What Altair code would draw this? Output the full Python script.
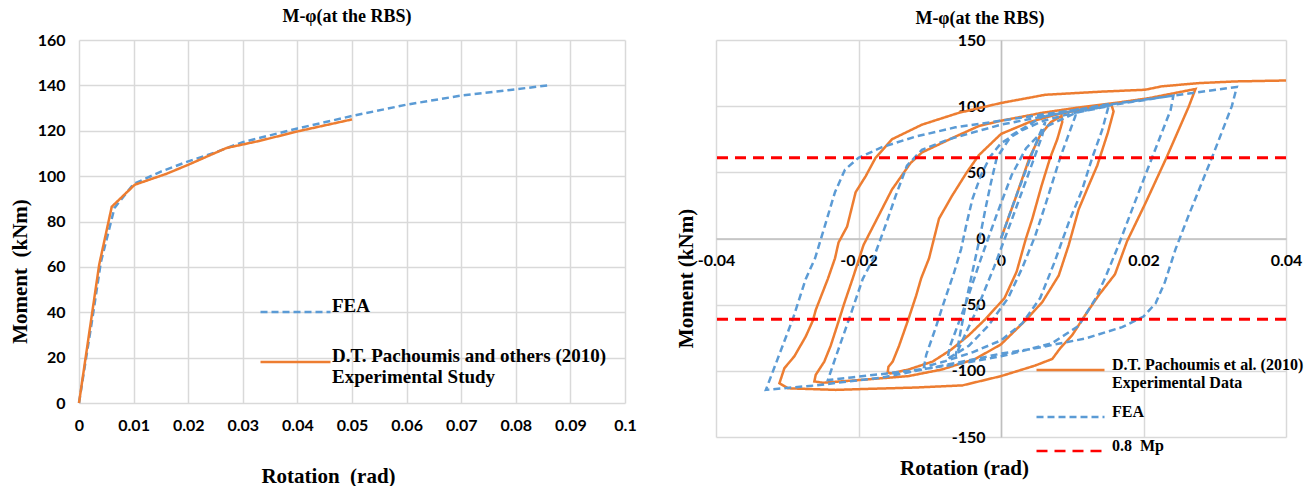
import altair as alt
import pandas as pd

TITLE = "M-φ(at the RBS)"
NB = "\u00a0"

# ---------------- left panel (monotonic) ----------------
mono_fea_rot = [0, 0.0025, 0.004, 0.0065, 0.01, 0.015, 0.02, 0.025, 0.03, 0.04, 0.05, 0.06, 0.07, 0.08, 0.086]
mono_fea_mom = [0, 38, 62, 86, 96.5, 102, 106.5, 110.5, 115, 121, 126.5, 131.5, 135.5, 138.3, 140]
mono_exp_rot = [0, 0.0037, 0.006, 0.0102, 0.016, 0.02, 0.027, 0.033, 0.04, 0.05]
mono_exp_mom = [0, 61, 86.5, 96.2, 101, 105, 112.4, 115.5, 119.7, 125]
left_names = ["FEA", "D.T. Pachoumis and others (2010)|Experimental Study"]
left_x_ticks = [0, 0.01, 0.02, 0.03, 0.04, 0.05, 0.06, 0.07, 0.08, 0.09, 0.1]
left_y_ticks = [0, 20, 40, 60, 80, 100, 120, 140, 160]

# ---------------- right panel (cyclic) ----------------
exp_rot = [0, 0.002, 0.004, 0.0055, 0.007, 0.0085,
           0.0086, 0.0079, 0.0069, 0.0057, 0.0044, 0.0035, 0.0022, 0.0005, -0.0022, -0.0045, -0.007, -0.0096, -0.013, -0.0155, -0.0159,
           -0.0158, -0.0152, -0.0143, -0.013, -0.0119, -0.0112, -0.0101, -0.0087, -0.0069, -0.0048, -0.0031, 0, 0.004, 0.008, 0.012, 0.0155,
           0.0158, 0.015, 0.0135, 0.0123, 0.0109, 0.0095, 0.0081, 0.0058, 0.0036, 0, -0.0036, -0.0083, -0.013, -0.02, -0.025, -0.0262,
           -0.026, -0.0248, -0.0239, -0.0227, -0.022, -0.0208, -0.0193, -0.0172, -0.0153, -0.0127, -0.0111, -0.0064, -0.0031, 0, 0.0058, 0.0104, 0.016, 0.0207, 0.0273,
           0.0263, 0.0233, 0.0203, 0.0177, 0.016, 0.0137, 0.0118, 0.01, 0.0083, 0.0072, 0.0048, 0, -0.0054, -0.0119, -0.019, -0.0232, -0.0299, -0.0311,
           -0.0304, -0.029, -0.0274, -0.0264, -0.026, -0.0243, -0.0233, -0.0228, -0.0216, -0.0204, -0.019, -0.0176, -0.0153, -0.0111, -0.0059, 0, 0.0062, 0.0142, 0.0202, 0.0226, 0.0277, 0.0329, 0.04]
exp_mom = [0, 30, 61, 78, 88, 92.5,
           88, 75, 61, 40, 15, 0, -25, -45, -61, -73, -84, -93, -99, -102, -101,
           -97, -93, -81, -61, -43, -30, -15, 15, 32, 50, 63, 79, 88, 94, 98, 101,
           96, 80, 55, 40, 22, -5, -28, -48, -61, -80, -91, -99, -104, -107, -109, -108,
           -103, -93, -81, -61, -49, -30, -5, 17, 37, 57, 65, 77, 85, 89, 95, 98.6, 102.4, 106, 113,
           99, 62, 27, -2, -27, -43, -58, -73, -83, -91, -96, -104, -111, -112.6, -113.7, -114.4, -113.2, -109.4,
           -98, -89, -74, -62, -54, -30.5, -15, -3, 9, 35, 47, 61, 75, 86, 95, 102.4, 108.6, 111, 112.4, 115, 117.4, 118.7, 119.4]

fea_rot = [0, 0.002, 0.0042, 0.0055, 0.0062,
           0.0058, 0.0038, 0.0015, -0.001, -0.0035, -0.0055, -0.0064,
           -0.006, -0.0048, -0.0038, -0.003, -0.0022, -0.0015, -0.0006, 0.0015, 0.0058, 0.0107,
           0.0104, 0.0083, 0.0062, 0.0048, 0.003, 0.001, -0.0018, -0.0045, -0.0075,
           -0.0072, -0.005, -0.0028, -0.0006, 0.0015, 0.0035, 0.0065, 0.0105, 0.0151,
           0.0142, 0.0128, 0.0114, 0.0095, 0.0075, 0.0055, 0.003, 0, -0.004, -0.008, -0.0108,
           -0.0105, -0.0092, -0.008, -0.0066, -0.0056, -0.0048, -0.004, -0.0028, -0.0015, 0, 0.003, 0.006, 0.0095, 0.0156, 0.02, 0.0242,
           0.0238, 0.0212, 0.0184, 0.0165, 0.0146, 0.0132, 0.0109, 0.0072, 0.003, 0, -0.005, -0.01, -0.016, -0.021, -0.0243,
           -0.0231, -0.0213, -0.0194, -0.0179, -0.0162, -0.0148, -0.0132, -0.0111, -0.0073, -0.0027, 0, 0.0062, 0.0109, 0.0156, 0.0235, 0.0331,
           0.0324, 0.0296, 0.0263, 0.0245, 0.023, 0.0217, 0.02, 0.017, 0.0118, 0.0048, 0, -0.0035, -0.011, -0.0166, -0.026, -0.033,
           -0.0292, -0.0274, -0.0261, -0.0247, -0.0233, -0.0219, -0.02, -0.0167, -0.012, -0.0064, 0, 0.0062, 0.0109, 0.0156]
fea_mom = [0, 30, 62, 80, 88,
           78, 48, 14, -22, -55, -78, -89,
           -80, -45, -20, 0, 22, 40, 61, 78, 92, 97.5,
           92, 61, 25, 2, -22, -45, -66, -81, -91,
           -82, -50, -15, 18, 48, 68, 85, 95, 100,
           82, 61, 37, 12, -18, -45, -64, -77, -86, -93, -97,
           -88, -68, -48, -26, -8, 12, 30, 48, 62, 72, 82, 89, 94, 101, 104.5, 108,
           97, 61, 22, -5, -30, -46, -66, -79, -85, -89, -94, -98, -102, -105, -107,
           -88, -60.5, -30.5, -15, 10, 32, 55, 67, 75, 82, 86, 92.5, 97, 101.5, 107.5, 114.5,
           100, 61, 17, -8, -33, -49, -59, -67, -75.6, -83, -87, -91, -99, -105, -111, -114.4,
           -60.5, -30.5, -15, 10, 35, 52, 61, 69, 77, 84, 89, 94, 97.5, 102]

mp_levels = [61, -61]
right_names = ["D.T. Pachoumis et al. (2010)|Experimental Data", "FEA", "0.8" + NB + " Mp"]
right_x_ticks = [-0.04, -0.02, 0, 0.02, 0.04]
right_y_ticks = [-150, -100, -50, 0, 50, 100, 150]

ORANGE, BLUE, RED = "#ED7D31", "#5B9BD5", "#FF0000"
SERIF = "Liberation Serif"
SANS = "Lato"


def frame(rot, mom, name):
    return pd.DataFrame({"rot": rot, "mom": mom, "series": name, "idx": list(range(len(rot)))})


def axis_common(**kw):
    base = dict(labelFont=SANS, labelFontSize=16, labelFontWeight="bold", labelColor="black",
                titleFont=SERIF, titleFontSize=21, titleFontWeight="bold", titleColor="black",
                tickSize=0, grid=True, gridColor="#d9d9d9", gridWidth=1.5,
                labelExpr="toString(datum.value)", titleBaseline="middle", titleAlign="center")
    base.update(kw)
    return alt.Axis(**base)


def legend(x, y, sym, rowpad, fsize, loff):
    return alt.Legend(orient="none", legendX=x, legendY=y, title=None, symbolType="stroke",
                      symbolSize=sym, symbolStrokeWidth=2.5, clipHeight=16,
                      labelFont=SERIF, labelFontSize=fsize, labelFontWeight="bold", labelColor="black",
                      labelLimit=800, labelOffset=loff, labelBaseline="alphabetic", rowPadding=rowpad,
                      padding=0, labelExpr="split(datum.label, '|')")


# ---------------- left chart ----------------
left_df = pd.concat([frame(mono_fea_rot, mono_fea_mom, left_names[0]),
                     frame(mono_exp_rot, mono_exp_mom, left_names[1])])
lleg = legend(180, 264, 4900, 27, 19, 0)
left_color = alt.Color("series:N", scale=alt.Scale(domain=left_names, range=[BLUE, ORANGE]), legend=lleg)
left_dash = alt.StrokeDash("series:N", scale=alt.Scale(domain=left_names, range=[[7, 4], [1, 0]]), legend=lleg)

left = alt.Chart(left_df).mark_line(strokeWidth=2.5).encode(
    x=alt.X("rot:Q", scale=alt.Scale(domain=[0, 0.1], nice=False),
            axis=axis_common(values=left_x_ticks, title="Rotation" + NB + " (rad)", labelPadding=14,
                             domain=False, titleX=249, titleY=73, labelFlush=False)),
    y=alt.Y("mom:Q", scale=alt.Scale(domain=[0, 160], nice=False),
            axis=axis_common(values=left_y_ticks, title="Moment" + NB + " (kNm)", labelPadding=14,
                             domain=False, titleX=-59, titleY=231, titleAngle=270)),
    color=left_color,
    strokeDash=left_dash,
    order="idx:Q",
).properties(
    width=546, height=363,
    title=alt.TitleParams(TITLE, font=SERIF, fontSize=18, fontWeight="bold", color="black",
                          anchor="middle", frame="group", offset=6, dx=-5),
)

# ---------------- right chart ----------------
exp_df = frame(exp_rot, exp_mom, right_names[0])
fea_df = frame(fea_rot, fea_mom, right_names[1])
mp_df = pd.DataFrame({"mom": mp_levels, "series": right_names[2]})

rleg = legend(319, 322, 4624, 13, 16, 6)
r_color = alt.Color("series:N", scale=alt.Scale(domain=right_names, range=[ORANGE, BLUE, RED]), legend=rleg)
r_dash = alt.StrokeDash("series:N", scale=alt.Scale(domain=right_names, range=[[1, 0], [7, 4], [11, 7]]), legend=rleg)

rx = alt.X("rot:Q", scale=alt.Scale(domain=[-0.04, 0.04], nice=False),
           axis=axis_common(values=right_x_ticks, title="Rotation (rad)", labelPadding=14, offset=-198.5,
                            domain=True, domainColor="#bfbfbf", domainWidth=1.5,
                            titleX=248, titleY=229.5, labelFlush=False))
ry = alt.Y("mom:Q", scale=alt.Scale(domain=[-150, 150], nice=False),
           axis=axis_common(values=right_y_ticks, title="Moment (kNm)", labelPadding=16, offset=-285,
                            domain=True, domainColor="#bfbfbf", domainWidth=1.5,
                            titleX=-315, titleY=238, titleAngle=270))

exp_layer = alt.Chart(exp_df).mark_line(strokeWidth=2.5).encode(
    x=rx, y=ry, color=r_color, strokeDash=r_dash, order="idx:Q")
fea_layer = alt.Chart(fea_df).mark_line(strokeWidth=2.5).encode(
    x=rx, y=ry, color=r_color, strokeDash=r_dash, order="idx:Q")
mp_layer = alt.Chart(mp_df).mark_rule(strokeWidth=3).encode(
    y=ry, color=r_color, strokeDash=r_dash)

right = alt.layer(exp_layer, fea_layer, mp_layer).properties(
    width=570, height=397,
    title=alt.TitleParams(TITLE, font=SERIF, fontSize=18, fontWeight="bold", color="black",
                          anchor="middle", frame="group", offset=4, dx=-21),
)

chart = alt.hconcat(left, right, spacing=38).resolve_scale(
    x="independent", y="independent", color="independent", strokeDash="independent"
).resolve_legend(color="independent", strokeDash="independent").properties(
    padding={"left": 9, "top": 8, "right": 5, "bottom": 0},
    background="white",
).configure_view(stroke=None)

chart.save("out.html", embed_options={"renderer": "svg", "actions": False})
